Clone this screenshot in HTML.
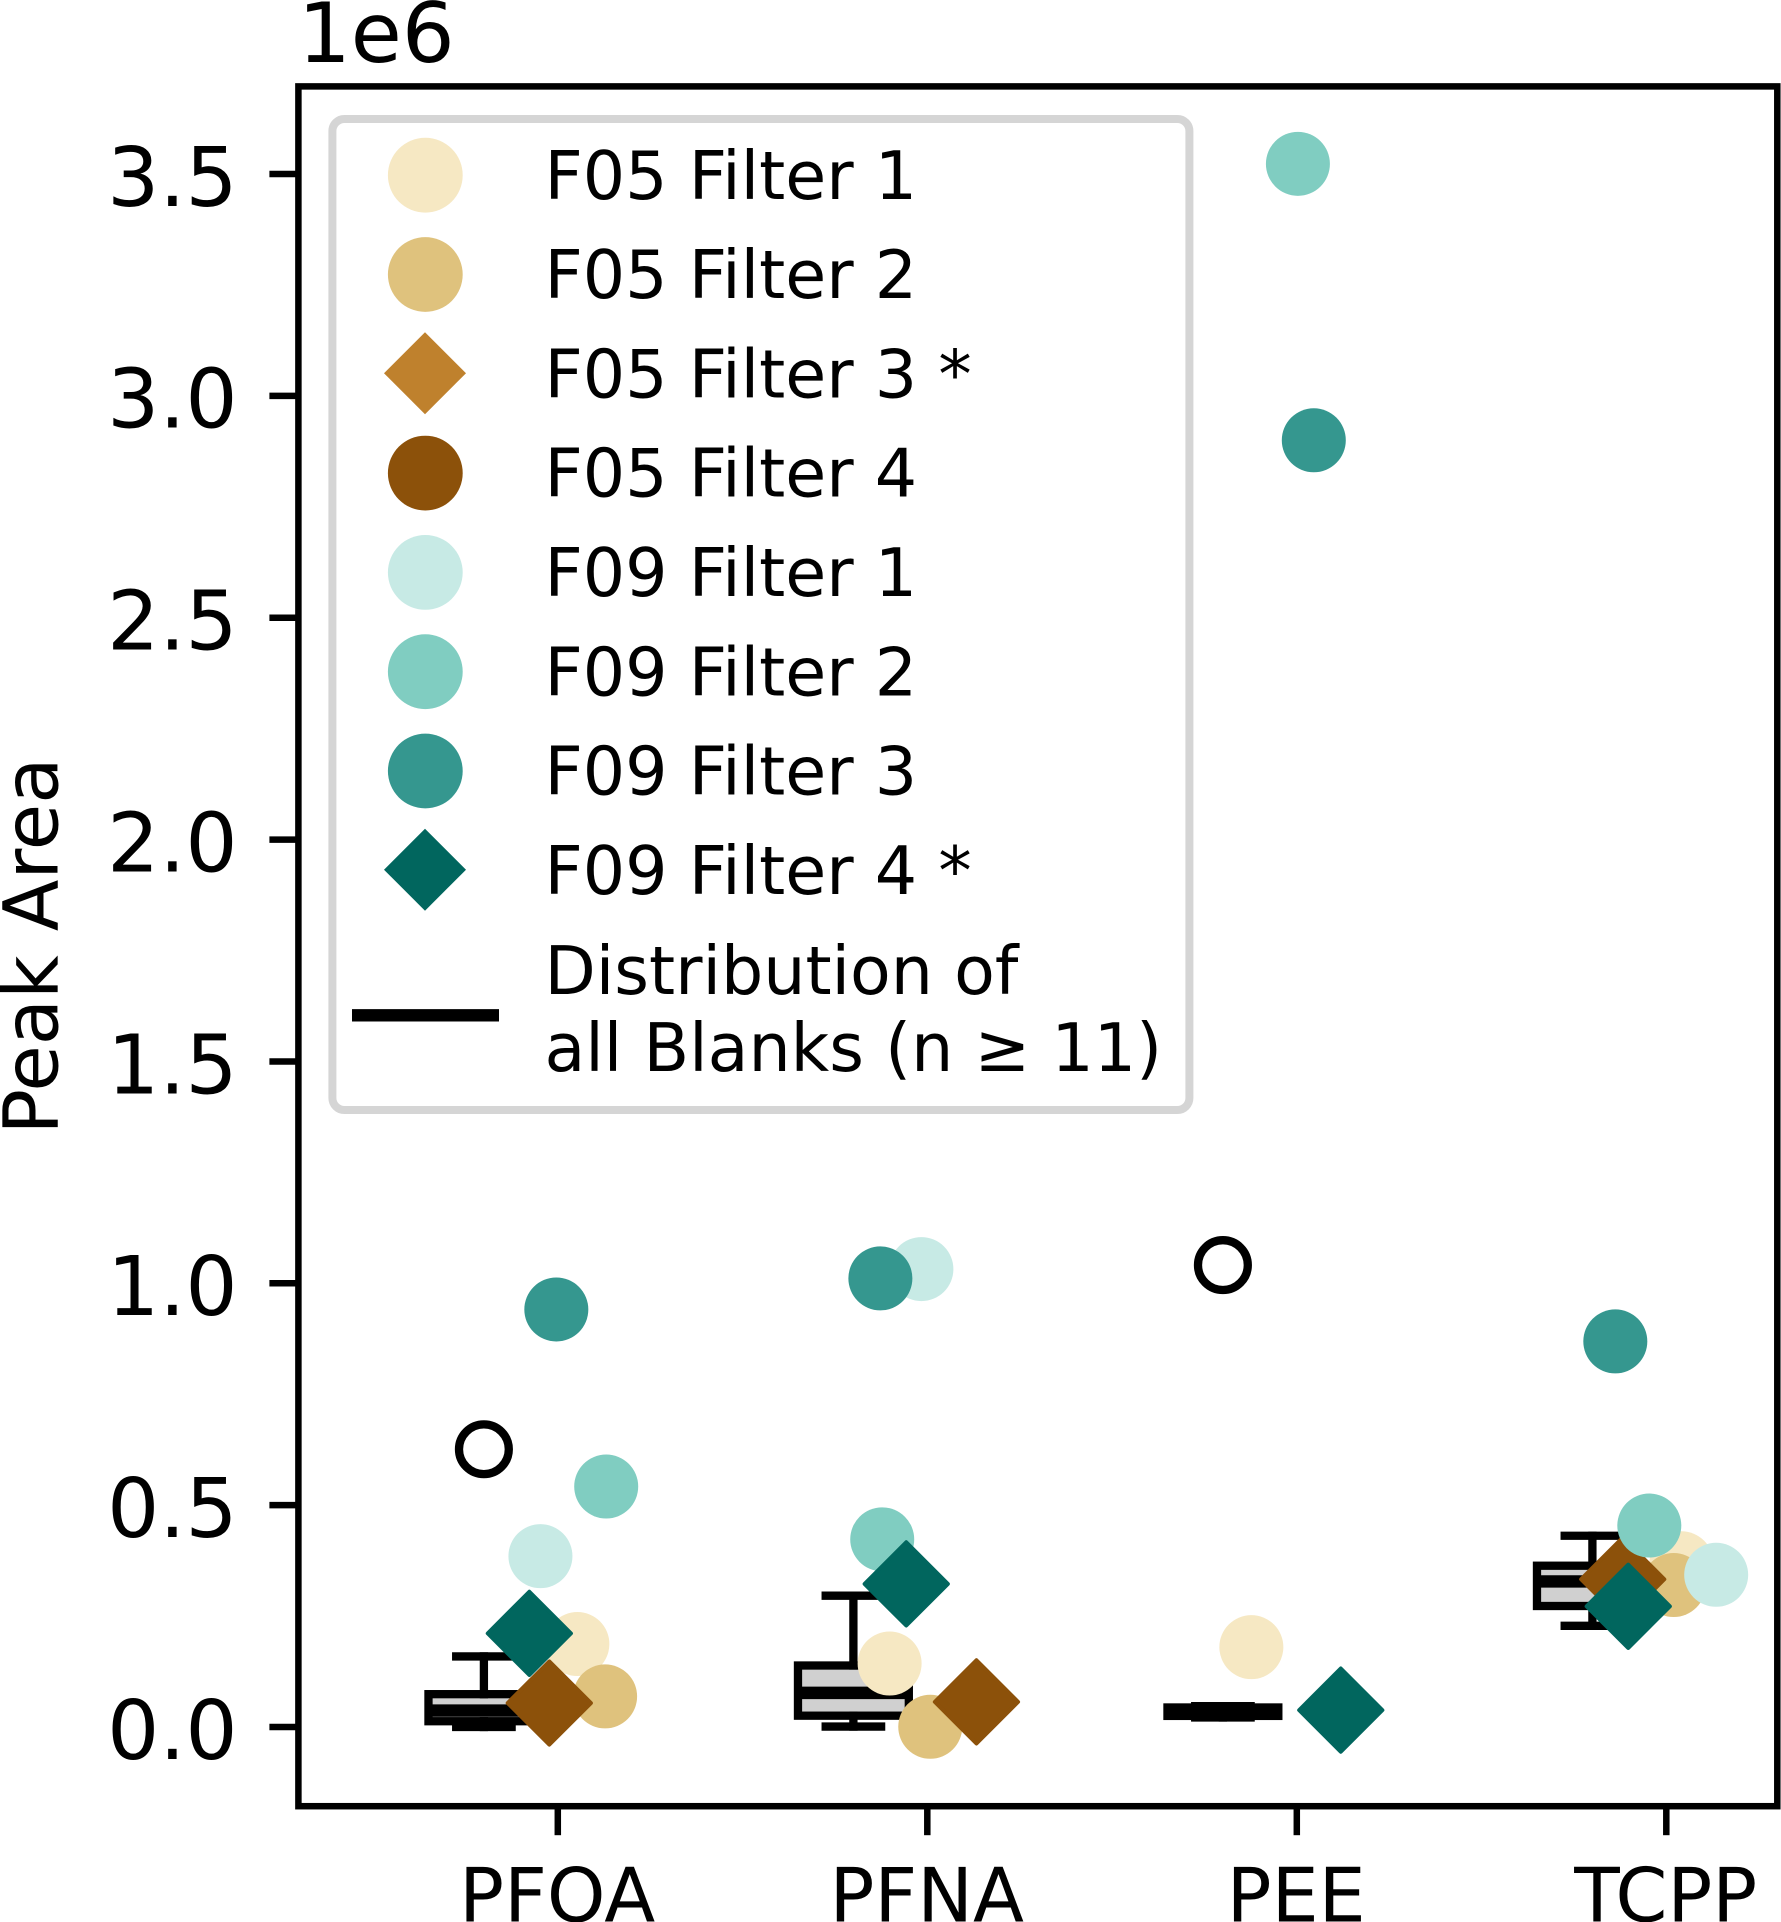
<!DOCTYPE html>
<html lang="en">
<head>
<meta charset="utf-8">
<title>Peak Area by Compound</title>
<style>
  html, body { margin: 0; padding: 0; background: #fff; }
  body { width: 1781px; height: 1922px; overflow: hidden; }
  svg { display: block; font-family: "DejaVu Sans", "Liberation Sans", sans-serif; }
</style>
</head>
<body>
<svg id="chart" xmlns="http://www.w3.org/2000/svg" width="1781" height="1922" viewBox="0 0 1781 1922">
  <rect x="0" y="0" width="1781" height="1922" fill="#ffffff"/>
</svg>
<script>
// ---- chart data (values in units of 1e6 peak area) ----
const compounds = ['PFOA', 'PFNA', 'PEE', 'TCPP'];
const positions = [1, 2, 3, 4];
const yTicks = [0, 0.5, 1, 1.5, 2, 2.5, 3, 3.5];
const yTickLabels = ['0.0', '0.5', '1.0', '1.5', '2.0', '2.5', '3.0', '3.5'];

const boxOffset = -0.2;
const boxWidth = 0.3;
const capWidth = 0.15;
const whiskerHigh = [0.159, 0.296, 0.047, 0.431];
const quartile3 = [0.074, 0.1386, 0.0440, 0.3635];
const medians = [0.037, 0.0769, 0.0345, 0.328];
const quartile1 = [0.013, 0.0255, 0.0250, 0.2727];
const whiskerLow = [0.000, 0.001, 0.0215, 0.228];
const outliers = [0.626, null, 1.041, null];

const f05Filter1Values = [0.187, 0.143, 0.180, 0.369];
const f05Filter1X = [1.053, 1.898, 2.877, 4.041];
const f05Filter2Values = [0.069, 0.0005, null, 0.320];
const f05Filter2X = [1.128, 2.008, null, 4.020];
const f05Filter4Values = [0.054, 0.0566, null, 0.333];
const f05Filter4X = [0.977, 2.133, null, 3.882];
const f09Filter1Values = [0.385, 1.032, null, 0.343];
const f09Filter1X = [0.953, 1.984, null, 4.135];
const f09Filter2Values = [0.542, 0.423, 3.523, 0.454];
const f09Filter2X = [1.131, 1.878, 3.003, 3.954];
const f09Filter3Values = [0.941, 1.011, 2.900, 0.869];
const f09Filter3X = [0.996, 1.873, 3.046, 3.862];
const f09Filter4Values = [0.211, 0.3225, 0.038, 0.272];
const f09Filter4X = [0.923, 1.943, 3.119, 3.897];

const seriesNames = ['f05-filter-1', 'f05-filter-2', 'f05-filter-4', 'f09-filter-1', 'f09-filter-2', 'f09-filter-3', 'f09-filter-4'];
const seriesValues = [f05Filter1Values, f05Filter2Values, f05Filter4Values, f09Filter1Values, f09Filter2Values, f09Filter3Values, f09Filter4Values];
const seriesX = [f05Filter1X, f05Filter2X, f05Filter4X, f09Filter1X, f09Filter2X, f09Filter3X, f09Filter4X];
const seriesColors = ['#f6e8c3', '#dfc27d', '#8c510a', '#c7eae5', '#80cdc1', '#35978f', '#01665e'];
const seriesShapes = ['circle', 'circle', 'diamond', 'circle', 'circle', 'circle', 'diamond'];
const drawOrder = [
  [0, 1, 3, 4, 5, 6, 2],
  [0, 1, 2, 3, 4, 5, 6],
  [0, 1, 2, 3, 4, 5, 6],
  [0, 1, 2, 3, 4, 5, 6]
];

const legendLabels = ['F05 Filter 1', 'F05 Filter 2', 'F05 Filter 3 *', 'F05 Filter 4', 'F09 Filter 1', 'F09 Filter 2', 'F09 Filter 3', 'F09 Filter 4 *'];
const legendColors = ['#f6e8c3', '#dfc27d', '#bf812d', '#8c510a', '#c7eae5', '#80cdc1', '#35978f', '#01665e'];
const legendShapes = ['circle', 'circle', 'diamond', 'circle', 'circle', 'circle', 'circle', 'diamond'];

// ---- layout ----
const plotLeft = 298.4, plotRight = 1777.3, plotTop = 86.4, plotBottom = 1806.2;
const strokeSpine = 6.5, strokeBox = 8.3, strokeMedian = 12.4;
const svg = document.getElementById('chart');
const NS = 'http://www.w3.org/2000/svg';

function xScale(v) { return 557.8 + (v - 1) * 369.5; }
function yScale(v) { return 1727 - v * 443.7; }
function make(tag, parent, geometry) {
  const el = document.createElementNS(NS, tag);
  for (const k in geometry) el.setAttribute(k, geometry[k]);
  parent.appendChild(el);
  return el;
}
function diamondPoints(cx, cy, r) {
  return (cx) + ',' + (cy - r) + ' ' + (cx + r) + ',' + cy + ' ' + cx + ',' + (cy + r) + ' ' + (cx - r) + ',' + cy;
}

// ---- plot marks group ----
const plotGroup = make('g', svg, {});



// box plots
compounds.forEach(function (name, i) {
  const slug = name.toLowerCase();
  const cx = xScale(positions[i] + boxOffset);
  const hw = (xScale(positions[i] + boxOffset + boxWidth / 2) - cx);
  const chw = (xScale(positions[i] + boxOffset + capWidth / 2) - cx);

  const box = make('rect', plotGroup, { x: cx - hw, y: yScale(quartile3[i]), width: hw * 2, height: yScale(quartile1[i]) - yScale(quartile3[i]), fill: '#d0d0d0', stroke: '#000', 'stroke-width': strokeBox });
  
  

  const whiskerUp = make('line', plotGroup, { x1: cx, x2: cx, y1: yScale(quartile3[i]), y2: yScale(whiskerHigh[i]), stroke: '#000', 'stroke-width': strokeBox, 'stroke-linecap': 'square' });
  
  

  const whiskerDown = make('line', plotGroup, { x1: cx, x2: cx, y1: yScale(quartile1[i]), y2: yScale(whiskerLow[i]), stroke: '#000', 'stroke-width': strokeBox, 'stroke-linecap': 'square' });
  
  

  const capUp = make('line', plotGroup, { x1: cx - chw, x2: cx + chw, y1: yScale(whiskerHigh[i]), y2: yScale(whiskerHigh[i]), stroke: '#000', 'stroke-width': strokeBox, 'stroke-linecap': 'square' });
  
  

  const capDown = make('line', plotGroup, { x1: cx - chw, x2: cx + chw, y1: yScale(whiskerLow[i]), y2: yScale(whiskerLow[i]), stroke: '#000', 'stroke-width': strokeBox, 'stroke-linecap': 'square' });
  
  

  const median = make('line', plotGroup, { x1: cx - hw, x2: cx + hw, y1: yScale(medians[i]), y2: yScale(medians[i]), stroke: '#000', 'stroke-width': strokeMedian });
  
  

  if (outliers[i] !== null) {
    const flier = make('circle', plotGroup, { cx: cx, cy: yScale(outliers[i]), r: 24.9, fill: 'none', stroke: '#000', 'stroke-width': strokeBox });
    
    
  }
});

// scatter points
compounds.forEach(function (name, i) {
  drawOrder[i].forEach(function (s) {
    const v = seriesValues[s][i];
    if (v === null) return;
    const px = xScale(seriesX[s][i]);
    const py = yScale(v);
    let mark;
    if (seriesShapes[s] === 'circle') {
      mark = make('circle', plotGroup, { cx: px, cy: py, r: 32, fill: seriesColors[s] });
    } else {
      mark = make('polygon', plotGroup, { points: diamondPoints(px, py, 41.6), fill: seriesColors[s], stroke: seriesColors[s], 'stroke-width': 4, 'stroke-linejoin': 'round' });
    }
    
    
  });
});

// ---- axes ----
const frame = make('rect', svg, { x: plotLeft, y: plotTop, width: plotRight - plotLeft, height: plotBottom - plotTop, fill: 'none', stroke: '#000', 'stroke-width': strokeSpine });



yTicks.forEach(function (t, i) {
  const py = yScale(t);
  const tick = make('line', svg, { x1: plotLeft - 29, x2: plotLeft, y1: py, y2: py, stroke: '#000', 'stroke-width': strokeSpine });
  
  
  const label = make('text', svg, { x: 237.6, y: py + 31.8, 'font-size': 82, 'text-anchor': 'end', fill: '#000' });
  label.textContent = yTickLabels[i];
  
  
});

compounds.forEach(function (name, i) {
  const px = xScale(positions[i]);
  const tick = make('line', svg, { x1: px, x2: px, y1: plotBottom, y2: plotBottom + 29, stroke: '#000', 'stroke-width': strokeSpine });
  
  
  const label = make('text', svg, { x: px - 0.6, y: 1921.5, 'font-size': 74.5, 'text-anchor': 'middle', fill: '#000' });
  label.textContent = name;
  
  
});

const offsetLabel = make('text', svg, { x: 298, y: 62, 'font-size': 83, fill: '#000' });
offsetLabel.textContent = '1e6';



const yTitle = make('text', svg, { x: 0, y: 0, 'font-size': 75.5, 'text-anchor': 'middle', fill: '#000', transform: 'translate(57.6 946) rotate(-90)' });
yTitle.textContent = 'Peak Area';



// ---- legend ----
const legend = make('g', svg, {});



const legendFrame = make('rect', legend, { x: 332.4, y: 119, width: 857, height: 991, rx: 12, ry: 12, fill: '#ffffff', stroke: '#d5d5d5', 'stroke-width': 8 });



legendLabels.forEach(function (text, i) {
  const cy = 175.2 + i * 99.3;
  let mark;
  if (legendShapes[i] === 'circle') {
    mark = make('circle', legend, { cx: 425.3, cy: cy, r: 37.4, fill: legendColors[i] });
  } else {
    mark = make('polygon', legend, { points: diamondPoints(425.0, cy - 0.6, 41), fill: legendColors[i] });
  }
  
  
  const label = make('text', legend, { x: 544.5, y: cy + 23.6, 'font-size': 66.6, fill: '#000' });
  label.textContent = text;
  
  
});

const legendLine = make('line', legend, { x1: 352, x2: 499, y1: 1015.3, y2: 1015.3, stroke: '#000', 'stroke-width': strokeMedian });



const blanksLine1 = make('text', legend, { x: 544.5, y: 993.8, 'font-size': 66.6, fill: '#000' });
blanksLine1.textContent = 'Distribution of';



const blanksLine2 = make('text', legend, { x: 544.5, y: 1070.8, 'font-size': 66.6, fill: '#000' });
blanksLine2.textContent = 'all Blanks (n \u2265 11)';


</script>
</body>
</html>
